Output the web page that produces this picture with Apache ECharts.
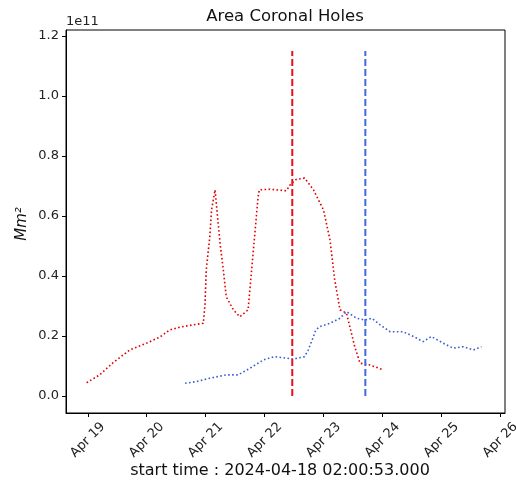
<!DOCTYPE html>
<html>
<head>
<meta charset="utf-8">
<script src="https://cdn.jsdelivr.net/npm/echarts@6/dist/echarts.min.js"></script>
<style>
  html, body { margin: 0; padding: 0; background: #fff; }
</style>
</head>
<body>
<div id="main" style="width:516px;height:490px;"></div>
<script>
// x values are days since 2024-04-19 00:00, y values in units of 1e11 Mm^2
const redDays = [-0.02, 0.20, 0.43, 0.71, 1.00, 1.22, 1.39, 1.56, 1.79, 1.96, 1.99, 2.01, 2.07, 2.10, 2.16,
  2.20, 2.25, 2.30, 2.35, 2.47, 2.58, 2.72, 2.78, 2.84, 2.89, 2.91, 3.09, 3.37, 3.43, 3.54, 3.68, 3.83,
  4.00, 4.11, 4.19, 4.28, 4.39, 4.53, 4.62, 4.79, 5.01];
const redArea = [0.044, 0.070, 0.111, 0.153, 0.176, 0.196, 0.220, 0.229, 0.237, 0.242, 0.309, 0.420, 0.530, 0.620, 0.687,
  0.600, 0.500, 0.420, 0.330, 0.287, 0.264, 0.287, 0.420, 0.553, 0.664, 0.687, 0.689, 0.684, 0.703, 0.722, 0.726, 0.687,
  0.620, 0.520, 0.387, 0.287, 0.276, 0.164, 0.109, 0.103, 0.087];

const blueDays = [1.65, 1.85, 2.07, 2.35, 2.55, 2.75, 2.98, 3.17, 3.37, 3.49, 3.68, 3.74, 3.83, 3.87, 3.94,
  4.11, 4.28, 4.39, 4.56, 4.70, 4.82, 4.96, 5.13, 5.35, 5.53, 5.69, 5.83, 6.03, 6.20, 6.37, 6.54, 6.68];
const blueArea = [0.042, 0.048, 0.059, 0.070, 0.070, 0.092, 0.120, 0.131, 0.126, 0.123, 0.131, 0.153, 0.198, 0.220, 0.231,
  0.242, 0.259, 0.281, 0.259, 0.253, 0.259, 0.237, 0.214, 0.214, 0.198, 0.181, 0.198, 0.176, 0.159, 0.164, 0.153, 0.164];

// vertical markers (day) and their height
const redMarkDay = 3.47;
const blueMarkDay = 4.71;
const markTop = 1.15;

const xTicks = [0, 1, 2, 3, 4, 5, 6, 7];
const xTickLabels = ['Apr 19', 'Apr 20', 'Apr 21', 'Apr 22', 'Apr 23', 'Apr 24', 'Apr 25', 'Apr 26'];
const yTicks = [0, 0.2, 0.4, 0.6, 0.8, 1.0, 1.2];

const chart = echarts.init(document.getElementById('main'));
const font = 'DejaVu Sans';
const pair = (xs, ys) => xs.map((x, i) => [x, ys[i]]);

const option = {
  animation: false,
  backgroundColor: '#fff',
  grid: {
    left: 66, top: 30, right: 11, bottom: 77,
    outerBoundsMode: 'none',
    show: true, borderColor: '#000', borderWidth: 1
  },
  xAxis: {
    type: 'value',
    min: -0.37, max: 7.08,
    axisLine: { show: true, onZero: false, lineStyle: { color: '#000', width: 1 } },
    axisTick: { show: true, length: 4, lineStyle: { color: '#000' }, customValues: xTicks },
    axisLabel: {
      customValues: xTicks,
      rotate: 45, margin: 27,
      align: 'center', verticalAlign: 'middle',
      fontFamily: font, fontSize: 13, color: '#222',
      formatter: v => xTickLabels[xTicks.indexOf(Math.round(v))]
    },
    splitLine: { show: false }
  },
  yAxis: {
    type: 'value',
    min: -0.057, max: 1.22,
    axisLine: { show: true, onZero: false, lineStyle: { color: '#000', width: 1 } },
    axisTick: { show: true, length: 4, lineStyle: { color: '#000' }, customValues: yTicks },
    axisLabel: {
      customValues: yTicks,
      margin: 7,
      fontFamily: font, fontSize: 13, color: '#222',
      formatter: v => v.toFixed(1)
    },
    splitLine: { show: false }
  },
  graphic: [
    { type: 'text', x: 285, y: 17, style: { text: 'Area Coronal Holes', font: '16.5px "DejaVu Sans"', fill: '#111', textAlign: 'center', textVerticalAlign: 'middle' } },
    { type: 'text', x: 66, y: 22, style: { text: '1e11', font: '13px "DejaVu Sans"', fill: '#222', textAlign: 'left', textVerticalAlign: 'middle' } },
    { type: 'text', x: 22, y: 224, rotation: Math.PI / 2, style: { text: 'Mm²', font: 'italic 15px "DejaVu Sans"', fill: '#111', textAlign: 'center', textVerticalAlign: 'middle' } },
    { type: 'text', x: 280, y: 471, style: { text: 'start time : 2024-04-18 02:00:53.000', font: '16px "DejaVu Sans"', fill: '#111', textAlign: 'center', textVerticalAlign: 'middle' } }
  ],
  series: [
    {
      type: 'line', data: pair(redDays, redArea), symbol: 'none',
      lineStyle: { color: '#e00000', width: 1.6, type: [1.6, 2.4] }
    },
    {
      type: 'line', data: pair(blueDays, blueArea), symbol: 'none',
      lineStyle: { color: '#3a5fd0', width: 1.6, type: [1.6, 2.4] }
    },
    {
      type: 'line', data: [[redMarkDay, 0], [redMarkDay, markTop]], symbol: 'none',
      lineStyle: { color: '#e8101c', width: 2, type: [7, 3] }
    },
    {
      type: 'line', data: [[blueMarkDay, 0], [blueMarkDay, markTop]], symbol: 'none',
      lineStyle: { color: '#4169e1', width: 2, type: [7, 3] }
    }
  ]
};
chart.setOption(option);
</script>
</body>
</html>
